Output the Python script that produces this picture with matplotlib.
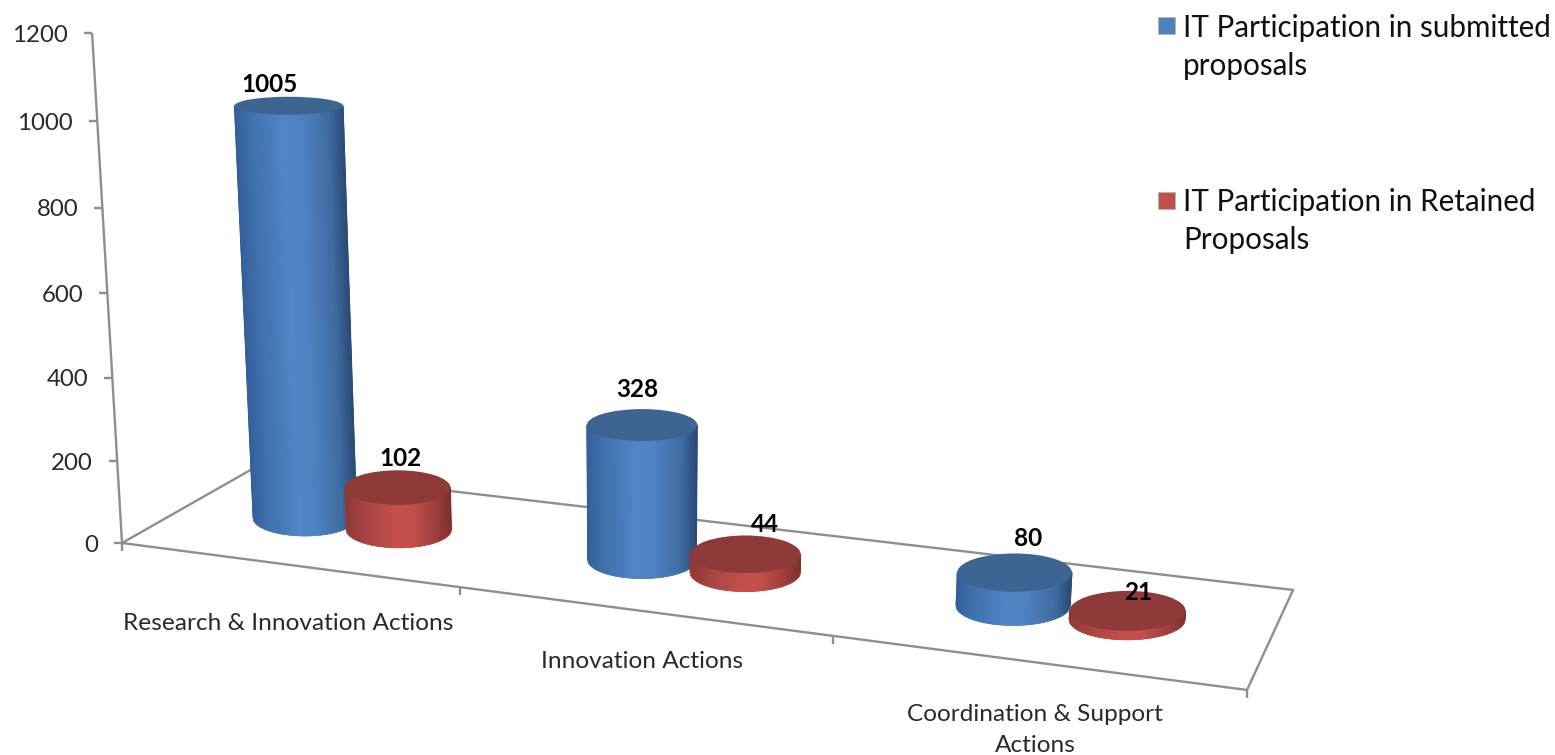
import numpy as np
import matplotlib
matplotlib.use("Agg")
import matplotlib.pyplot as plt
from matplotlib.colors import LinearSegmentedColormap
from matplotlib.patches import Ellipse, Rectangle

# ---------- data ----------
categories = ["Research & Innovation Actions", "Innovation Actions",
              "Coordination & Support\nActions"]
series_names = ["IT Participation in submitted\nproposals",
                "IT Participation in Retained\nProposals"]
submitted = [1005, 328, 80]
retained = [102, 44, 21]
y_ticks = [0, 200, 400, 600, 800, 1000, 1200]

# ---------- style / layout ----------
FONT = "Lato"
TXT = "#2a2a2a"
LINE = "#8e8e8e"
body_blue = LinearSegmentedColormap.from_list("b", [(0, "#34609a"), (.15, "#3f72ad"), (.45, "#5086c8"),
                                                    (.62, "#4d82c1"), (.87, "#3e6ba1"), (1, "#2b4c78")])
body_red = LinearSegmentedColormap.from_list("r", [(0, "#8f3836"), (.2, "#a84542"), (.5, "#c8504c"),
                                                   (.65, "#c24e4a"), (.9, "#963b38"), (1, "#7f302e")])
top_blue, top_red = "#3d6592", "#8e3a38"
SERIES_OFFSET = 0.048
FLOOR_DEPTH = 0.5
label_offsets = {0: [(-19, -21), (-5, -36), (13, -34)],
                 1: [(3, -29), (19, -30), (11, -18)]}

fig = plt.figure(figsize=(15.55, 7.55), dpi=100, facecolor="white")
ax = fig.add_axes([0, 0, 1, 1])
ax.axis("off")


def floor(u, v):
    """Perspective map of the floor: u along categories, v in depth, both 0..1."""
    den = -0.1414 * u + 0.0890 * v + 1
    return (948.7 * u + 154.6 * v + 122) / den, (49.4 * u - 33.35 * v + 543) / den


def lean(x, value):
    """Verticals converge on a vanishing point below the chart."""
    return x + (x - 641) * 4.8e-5 * value


def axis_y(value):
    return 543 - 0.407 * value - 1.5e-5 * value ** 2


def ry_at(y):
    return 9 + 0.0217 * (y - 105)


def rx_at(x):
    return 49.5 + 0.0075 * x


def hline(xs, ys, **kw):
    ax.plot(xs, ys, color=LINE, lw=1.7, solid_capstyle="butt", **kw)


# floor
corners = [floor(0, 0), floor(1, 0), floor(1, 1), floor(0, 1), floor(0, 0)]
hline([c[0] for c in corners], [c[1] for c in corners], zorder=1)
for k in range(4):
    px, py = floor(k / 3, 0)
    hline([px, px], [py, py + 8], zorder=1)

# value axis
x0, y0 = floor(0, 0)
hline([lean(x0, 0), lean(x0, y_ticks[-1])], [y0, axis_y(y_ticks[-1])], zorder=1)
for t in y_ticks:
    px, py = lean(x0, t), axis_y(t)
    hline([px - 8, px], [py, py], zorder=1)
    ax.text(px - 24, py + 2, str(t), ha="right", va="center", fontsize=17.3, family=FONT, color=TXT)


def cylinder(u, value, cmap, top_color, z):
    bx, by = floor(u, FLOOR_DEPTH)
    bx += 1.5
    tx, ty = lean(bx, value), by - 0.41 * value
    rb, rt = rx_at(bx), rx_at(bx) * (1 + 4.8e-5 * value)
    ryb, ryt = ry_at(by), ry_at(ty)
    s = np.linspace(-1, 1, 161)
    X = np.vstack([tx + s * rt, bx + s * rb])
    Y = np.vstack([np.full_like(s, ty), by + ryb * np.sqrt(1 - s ** 2)])
    C = np.vstack([(s + 1) / 2, (s + 1) / 2])
    ax.pcolormesh(X, Y, C, cmap=cmap, vmin=0, vmax=1, shading="gouraud", zorder=z)
    # thin matching outline keeps the silhouette smooth
    ax.plot(X[1], Y[1], color=cmap(0.5), lw=0.6, alpha=0.6, zorder=z)
    ax.add_patch(Ellipse((tx, ty), 2 * rt, 2 * ryt, fc=top_color, ec="none", zorder=z + 0.1))
    return tx, ty


tops = {0: [], 1: []}
for i in range(len(categories)):
    mid = (i + 0.5) / len(categories)
    tops[0].append(cylinder(mid - SERIES_OFFSET, submitted[i], body_blue, top_blue, 3 + i))
    tops[1].append(cylinder(mid + SERIES_OFFSET, retained[i], body_red, top_red, 3.5 + i))

# data labels
for s, vals in enumerate([submitted, retained]):
    for i, v in enumerate(vals):
        tx, ty = tops[s][i]
        dx, dy = label_offsets[s][i]
        ax.text(tx + dx, ty + dy, str(v), ha="center", va="center", fontsize=17.5,
                fontweight="bold", family=FONT, color="black", zorder=20)

# category labels
cat_pos = [(288, 623), (642, 661), (1035, 730)]
for name, (cx, cy) in zip(categories, cat_pos):
    ax.text(cx, cy, name, ha="center", va="center", fontsize=17.6, family=FONT, color=TXT,
            linespacing=1.6, zorder=20)

# legend
for name, col, sy, ty in zip(series_names, ["#4f81bd", "#c0504d"], [17, 192], [47, 221]):
    ax.add_patch(Rectangle((1158, sy), 17, 17, fc=col, ec="#b5b5b5", lw=0.6, zorder=5))
    ax.text(1183, ty, name, ha="left", va="center", fontsize=21.3, family=FONT, color="#111111",
            linespacing=1.47, zorder=20)

ax.set_xlim(0, 1555)
ax.set_ylim(755, 0)
fig.savefig("out.png", dpi=100, facecolor="white")
